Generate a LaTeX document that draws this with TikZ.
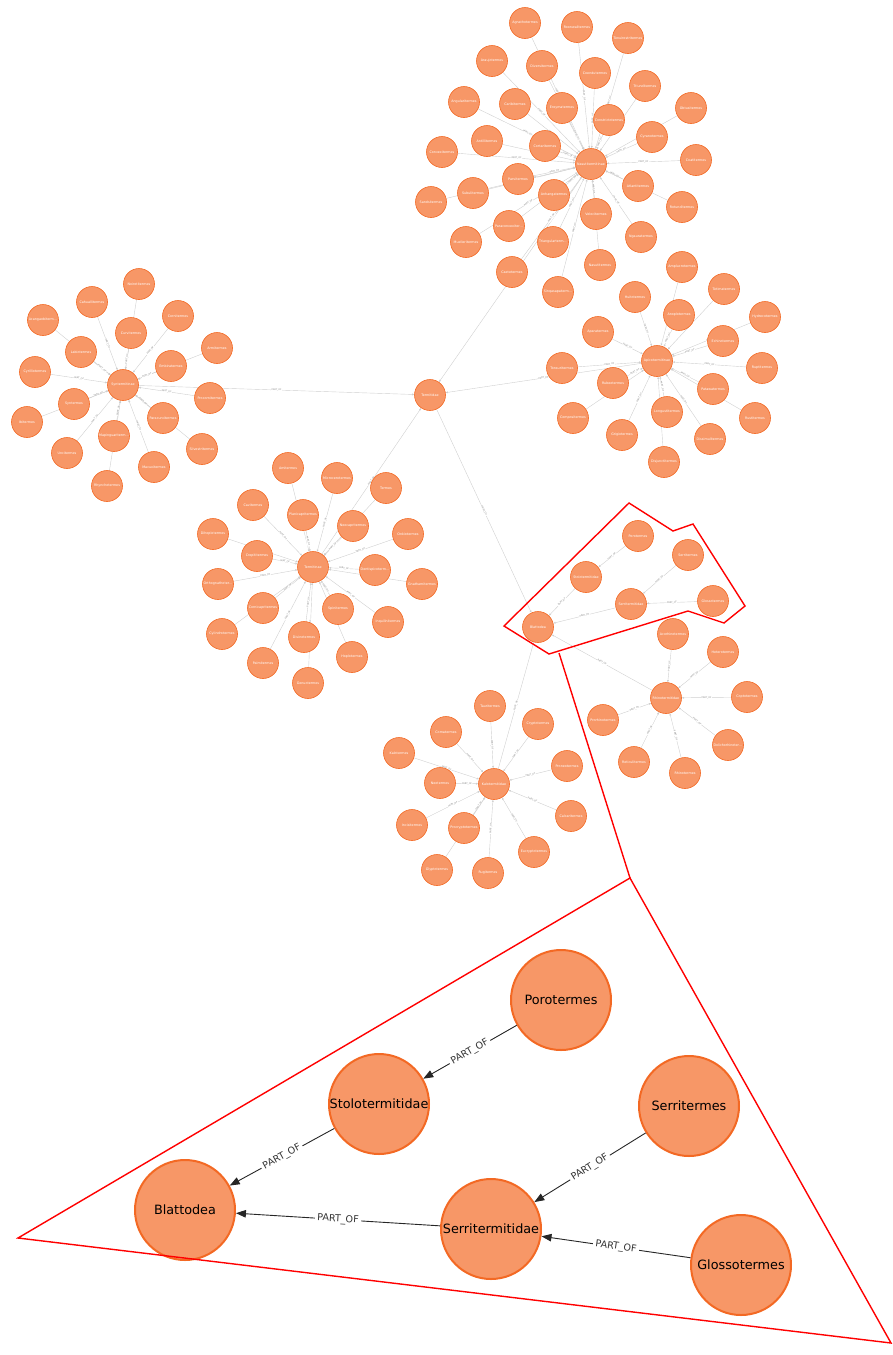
\documentclass[tikz,border=0pt]{standalone}
\usepackage{fontspec}
\setmainfont{DejaVu Sans}
\usetikzlibrary{arrows.meta}
\definecolor{nfill}{HTML}{F79767}
\definecolor{nstroke}{HTML}{F36924}
\definecolor{egray}{HTML}{CFCFCF}
\definecolor{lgray}{HTML}{8A8A8A}
\pgfdeclarelayer{bg}\pgfdeclarelayer{fg}\pgfsetlayers{bg,main,fg}
\tikzset{
 sm/.style={circle,draw=nstroke,fill=nfill,line width=0.6pt,minimum size=31pt,inner sep=0pt},
 smt/.style={text=white,font=\fontsize{3.3}{4}\selectfont,inner sep=0pt},
 big/.style={circle,draw=nstroke,fill=nfill,line width=2pt,minimum size=100pt,inner sep=0pt},
 bigt/.style={text=black,font=\fontsize{12.8}{15}\selectfont,inner sep=0pt},
 se/.style={draw=egray,line width=0.4pt,-{Triangle[length=2.2pt,width=1.8pt]}},
 sl/.style={midway,sloped,fill=white,inner sep=0.4pt,text=lgray,font=\fontsize{2.3}{3}\selectfont},
 be/.style={draw=black!85,line width=0.9pt,-{Triangle[length=10pt,width=7.5pt]}},
 bl/.style={midway,sloped,fill=white,inner sep=2.5pt,text=black!80,font=\fontsize{9.6}{11}\selectfont},
 redl/.style={draw=red,line width=1.4pt,line join=miter}
}
\begin{document}
\begin{tikzpicture}[x=1pt,y=-1pt]
\useasboundingbox (0,0) rectangle (893,1355);
% hubs
\node[sm,label={[smt]center:Termitidae}] (T) at (430,395) {};
\node[sm,label={[smt]center:Nasutitermitinae}] (N) at (591,164) {};
\node[sm,label={[smt]center:Apicotermitinae}] (A) at (657,361) {};
\node[sm,label={[smt]center:Syntermitinae}] (S) at (123,385) {};
\node[sm,label={[smt]center:Termitinae}] (M) at (313,567) {};
\node[sm,label={[smt]center:Kalotermitidae}] (K) at (494,784) {};
\node[sm,label={[smt]center:Rhinotermitidae}] (R) at (666,698) {};
\node[sm,label={[smt]center:Blattodea}] (B) at (538,627) {};
\node[sm,label={[smt]center:Stolotermitidae}] (St) at (586,577) {};
\node[sm,label={[smt]center:Porotermes}] (Po) at (638,536) {};
\node[sm,label={[smt]center:Serritermitidae}] (Sd) at (631,604) {};
\node[sm,label={[smt]center:Serritermes}] (Se) at (688,555) {};
\node[sm,label={[smt]center:Glossotermes}] (Gl) at (713,601) {};
\begin{pgfonlayer}{bg}
\draw[se] (N) -- node[sl]{PART\_OF} (T);
\draw[se] (A) -- node[sl]{PART\_OF} (T);
\draw[se] (S) -- node[sl]{PART\_OF} (T);
\draw[se] (M) -- node[sl]{PART\_OF} (T);
\draw[se] (T) -- node[sl]{PART\_OF} (B);
\draw[se] (K) -- node[sl]{PART\_OF} (B);
\draw[se] (R) -- node[sl]{PART\_OF} (B);
\draw[se] (St) -- node[sl]{PART\_OF} (B);
\draw[se] (Sd) -- node[sl]{PART\_OF} (B);
\draw[se] (Po) -- node[sl]{PART\_OF} (St);
\draw[se] (Se) -- node[sl]{PART\_OF} (Sd);
\draw[se] (Gl) -- node[sl]{PART\_OF} (Sd);
\end{pgfonlayer}
% Nasutitermitinae leaves
\foreach \n/\x/\y/\t in {
 n1/525/23/Agnathotermes, n2/577/27/Roonwalitermes, n3/628/38/Tenuirostritermes,
 n4/492/61/Araujotermes, n5/542/66/Diversitermes, n6/595/73/Coendutermes,
 n7/645/86/Triunditermes, n8/464/102/Angularitermes, n9/515/104/Caribitermes,
 n10/562/108/Ereymatermes, n11/609/120/Constrictotermes, n12/691/108/Obtusitermes,
 n13/652/137/Cyranotermes, n14/487/141/Antillitermes, n15/545/146/Cortaritermes,
 n16/442/152/Convexitermes, n17/696/160/Coatitermes, n18/518/179/Parvitermes,
 n19/473/193/Subulitermes, n20/431/202/Sandsitermes, n21/554/195/Anhangatermes,
 n22/638/186/Atlantitermes, n23/596/214/Velocitermes, n24/682/207/Rotunditermes,
 n25/509/226/Paraconvexiter…, n26/466/242/Muelleritermes, n27/553/242/Triangularterm…,
 n28/641/237/Ngauratermes, n29/512/272/Caetetermes, n30/600/265/Nasutitermes,
 n31/558/292/Sinqasapaterm…}{
 \node[sm,label={[smt]center:\t}] (\n) at (\x,\y) {};
 \begin{pgfonlayer}{bg}\draw[se] (\n) -- node[sl]{PART\_OF} (N);\end{pgfonlayer}
}
% Apicotermitinae leaves
\foreach \n/\x/\y/\t in {
 a1/682/267/Amplucrotermes, a2/724/289/Tetimatermes, a3/635/297/Huitotermes,
 a4/679/315/Anoplotermes, a5/765/317/Hydrecotermes, a6/598/332/Aparatermes,
 a7/723/341/Echinotermes, a8/762/368/Ruptitermes, a9/562/368/Tonsuritermes,
 a10/613/383/Rubeotermes, a11/713/389/Patawatermes, a12/573/418/Compositermes,
 a13/667/412/Longustitermes, a14/755/418/Rustitermes, a15/622/435/Grigiotermes,
 a16/710/439/Dissimulitermes, a17/664/462/Disjunctitermes}{
 \node[sm,label={[smt]center:\t}] (\n) at (\x,\y) {};
 \begin{pgfonlayer}{bg}\draw[se] (\n) -- node[sl]{PART\_OF} (A);\end{pgfonlayer}
}
% Syntermitinae leaves
\foreach \n/\x/\y/\t in {
 s1/139/284/Noirotitermes, s2/92/302/Cahuallitermes, s3/178/316/Cornitermes,
 s4/43/320/Acangaobiterm…, s5/131/333/Curvitermes, s6/217/348/Armitermes,
 s7/81/352/Labiotermes, s8/171/366/Embiratermes, s9/35/372/Cyrilliotermes,
 s10/210/398/Procornitermes, s11/74/404/Syntermes, s12/27/422/Ibitermes,
 s13/163/418/Paracurvitermes, s14/202/449/Silvestritermes, s15/114/436/Mapinguariterm…,
 s16/67/453/Uncitermes, s17/154/467/Macuxitermes, s18/107/486/Rhynchotermes}{
 \node[sm,label={[smt]center:\t}] (\n) at (\x,\y) {};
 \begin{pgfonlayer}{bg}\draw[se] (\n) -- node[sl]{PART\_OF} (S);\end{pgfonlayer}
}
% Termitinae leaves
\foreach \n/\x/\y/\t in {
 m1/288/468/Amitermes, m2/337/478/Microcerotermes, m3/386/488/Termes,
 m4/253/505/Cavitermes, m5/303/515/Planicapritermes, m6/353/526/Neocapritermes,
 m7/213/534/Dihoplotermes, m8/408/534/Onkiotermes, m9/257/556/Crepititermes,
 m10/375/570/Dentispicoterm…, m11/218/584/Orthognathoter…, m12/422/584/Gnathamitermes,
 m13/263/608/Cornicapritermes, m14/338/609/Spinitermes, m15/388/622/Inquilinitermes,
 m16/222/634/Cylindrotermes, m17/304/637/Divinotermes, m18/263/663/Palmitermes,
 m19/352/657/Hoplotermes, m20/308/683/Genuotermes}{
 \node[sm,label={[smt]center:\t}] (\n) at (\x,\y) {};
 \begin{pgfonlayer}{bg}\draw[se] (\n) -- node[sl]{PART\_OF} (M);\end{pgfonlayer}
}
% Kalotermitidae leaves
\foreach \n/\x/\y/\t in {
 k1/490/706/Tauritermes, k2/538/724/Cryptotermes, k3/446/732/Comatermes,
 k4/399/753/Kalotermes, k5/567/766/Proneotermes, k6/440/783/Neotermes,
 k7/412/825/Incisitermes, k8/464/828/Procryptotermes, k9/571/816/Calcaritermes,
 k10/534/852/Eucryptotermes, k11/437/870/Glyptotermes, k12/488/873/Rugitermes}{
 \node[sm,label={[smt]center:\t}] (\n) at (\x,\y) {};
 \begin{pgfonlayer}{bg}\draw[se] (\n) -- node[sl]{PART\_OF} (K);\end{pgfonlayer}
}
% Rhinotermitidae leaves
\foreach \n/\x/\y/\t in {
 r1/673/634/Acorhinotermes, r2/723/652/Heterotermes, r3/747/697/Coptotermes,
 r4/603/720/Prorhinotermes, r5/728/745/Dolichorhinoter…, r6/634/762/Reticulitermes,
 r7/685/773/Rhinotermes}{
 \node[sm,label={[smt]center:\t}] (\n) at (\x,\y) {};
 \begin{pgfonlayer}{bg}\draw[se] (\n) -- node[sl]{PART\_OF} (R);\end{pgfonlayer}
}
% highlight polygon and zoom lines
\begin{pgfonlayer}{fg}
\draw[redl] (629,503) -- (673,531) -- (693,524) -- (745,606) -- (724,623) -- (688,611) -- (549,654) -- (504,626) -- cycle;
\coordinate (z1) at (559,653);
\coordinate (z2) at (630,878);
\coordinate (z3) at (18,1238);
\coordinate (z4) at (891,1343);
\draw[redl] (z1) -- (z2);
\draw[redl] (z2) -- (z3) -- (z4) -- cycle;
\end{pgfonlayer}
% enlarged view
\node[big,label={[bigt]center:Porotermes}] (BPo) at (561,1000) {};
\node[big,label={[bigt]center:Stolotermitidae}] (BSt) at (379,1104) {};
\node[big,label={[bigt]center:Serritermes}] (BSe) at (689,1106) {};
\node[big,label={[bigt]center:Blattodea}] (BB) at (185,1210) {};
\node[big,label={[bigt]center:Serritermitidae}] (BSd) at (491,1229) {};
\node[big,label={[bigt]center:Glossotermes}] (BGl) at (741,1265) {};
\draw[be] (BPo) -- node[bl]{PART\_OF} (BSt);
\draw[be] (BSt) -- node[bl]{PART\_OF} (BB);
\draw[be] (BSe) -- node[bl]{PART\_OF} (BSd);
\draw[be] (BSd) -- node[bl]{PART\_OF} (BB);
\draw[be] (BGl) -- node[bl]{PART\_OF} (BSd);
\end{tikzpicture}
\end{document}
